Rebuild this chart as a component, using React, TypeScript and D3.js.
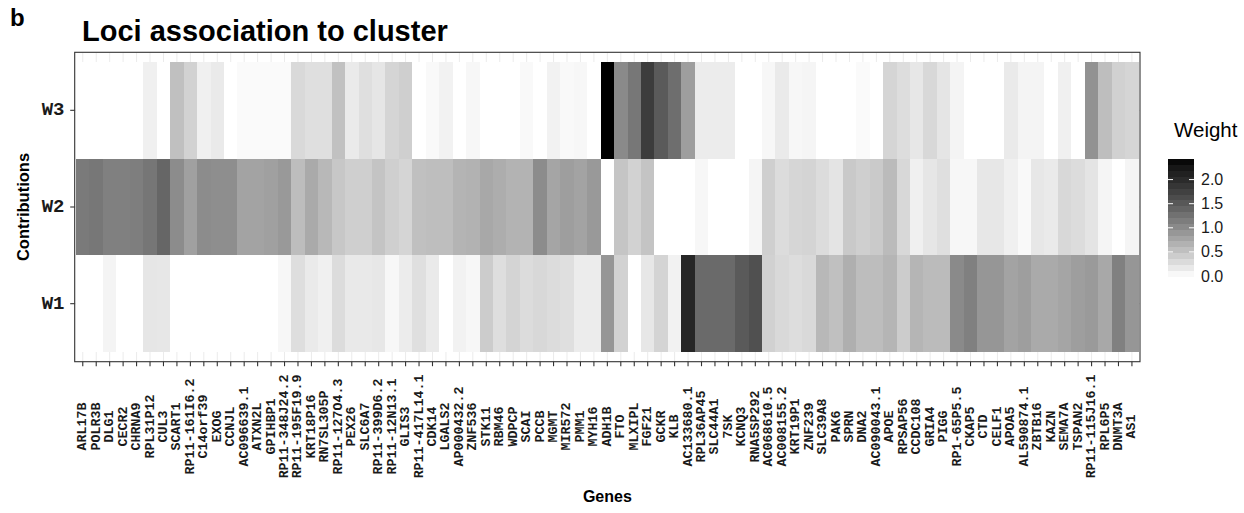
import React from "react";
import * as d3 from "d3";

const genes = [
  "ARL17B", "POLR3B", "DLG1", "CECR2", "CHRNA9", "RPL31P12", "CUL3", "SCART1",
  "RP11-161I6.2", "C14orf39", "EXOG", "CCNJL", "AC096639.1", "ATXN2L", "GPIHBP1",
  "RP11-348J24.2", "RP11-195F19.9", "KRT18P16", "RN7SL305P", "RP11-127O4.3", "PEX26",
  "SLC6A7", "RP11-399D6.2", "RP11-12N13.1", "GLIS3", "RP11-417L14.1", "CDK14", "LGALS2",
  "AP000432.2", "ZNF536", "STK11", "RBM46", "WDPCP", "SCAI", "PCCB", "MGMT", "MIR572",
  "PMM1", "MYH16", "ADH1B", "FTO", "MLXIPL", "FGF21", "GCKR", "KLB", "AC133680.1",
  "RPL36AP45", "SLC44A1", "7SK", "KCNQ3", "RNA5SP292", "AC068610.5", "AC008155.2",
  "KRT19P1", "ZNF239", "SLC39A8", "PAK6", "SPRN", "DNA2", "AC090043.1", "APOE",
  "RPSAP56", "CCDC108", "GRIA4", "PIGG", "RP1-65P5.5", "CKAP5", "CTD", "CELF1", "APOA5",
  "AL590874.1", "ZBTB16", "KAZN", "SEMA7A", "TSPAN2", "RP11-115J16.1", "RPL6P5",
  "DNMT3A", "AS1",
];

const contributions = ["W3", "W2", "W1"];

const weightW3 = [
  0, 0, 0, 0, 0, 0.13, 0, 0.54, 0.38, 0.13, 0.18, 0, 0.04, 0.04, 0.04, 0.04, 0.32, 0.27,
  0.27, 0.53, 0.18, 0.27, 0.21, 0.36, 0.41, 0, 0.05, 0.11, 0, 0.07, 0, 0, 0, 0.05, 0,
  0.11, 0.05, 0.07, 0, 2.43, 1.03, 1.21, 1.81, 1.5, 1.3, 0.85, 0.16, 0.16, 0.16, 0, 0,
  0.07, 0.18, 0.07, 0.08, 0, 0, 0, 0.04, 0, 0.36, 0.29, 0.2, 0.33, 0.22, 0.09, 0, 0, 0,
  0.18, 0.09, 0.09, 0, 0.13, 0, 0.96, 0.56, 0.39, 0.36,
];

const weightW2 = [
  1.19, 1.21, 1.13, 1.13, 1.15, 1.22, 1.38, 1.01, 0.83, 1.01, 1.0, 1.0, 0.8, 0.8, 0.83,
  0.89, 0.57, 0.74, 0.61, 0.48, 0.41, 0.41, 0.51, 0.41, 0.36, 0.54, 0.56, 0.56, 0.65,
  0.67, 0.76, 0.71, 0.66, 0.66, 1.01, 0.78, 0.85, 0.8, 0.89, 0, 0.5, 0.38, 0.51, 0, 0, 0,
  0.07, 0, 0, 0, 0.08, 0.41, 0.3, 0.35, 0.37, 0.3, 0.23, 0.46, 0.41, 0.45, 0.59, 0.33,
  0.13, 0.21, 0.27, 0.07, 0.07, 0.2, 0.2, 0.13, 0.05, 0.2, 0.18, 0.33, 0.3, 0.23, 0.08, 0,
  0.08,
];

const weightW1 = [
  0, 0, 0.09, 0, 0, 0.21, 0.2, 0, 0, 0, 0, 0, 0, 0, 0, 0.07, 0.28, 0.18, 0.13, 0.3, 0.19,
  0.19, 0.2, 0.07, 0.16, 0.27, 0.18, 0, 0.11, 0.07, 0.44, 0.28, 0.37, 0.3, 0.33, 0.3,
  0.27, 0.16, 0.16, 0.92, 0.38, 0, 0.2, 0.37, 0.11, 2.06, 1.34, 1.34, 1.34, 1.5, 1.6,
  0.39, 0.32, 0.29, 0.32, 0.61, 0.54, 0.69, 0.57, 0.57, 0.64, 0.44, 0.64, 0.59, 0.59,
  1.03, 1.13, 0.92, 0.92, 0.8, 0.85, 0.74, 0.74, 0.78, 0.85, 0.88, 0.76, 1.13, 0.92,
];

const legendTicks = [0, 0.5, 1.0, 1.5, 2.0];
const weightMax = 2.43;

export default function App() {
  const W = 1244;
  const H = 513;
  const px0 = 74.7, px1 = 1140, py0 = 52.3, py1 = 361.7;
  const tickLen = 4.5;
  const ux = (px1 - px0) / (genes.length + 0.2);
  const uy = (py1 - py0) / (contributions.length + 0.2);
  const x = d3.scaleBand<string>().domain(genes).range([px0 + 0.1 * ux, px1 - 0.1 * ux]);
  const y = d3.scaleBand<string>().domain(contributions).range([py0 + 0.1 * uy, py1 - 0.1 * uy]);
  const color = d3
    .scaleLinear<string>()
    .domain([0, weightMax])
    .range(["#ffffff", "#000000"])
    .interpolate(d3.interpolateLab);

  const series: Record<string, number[]> = { W3: weightW3, W2: weightW2, W1: weightW1 };
  const cells: { g: string; r: string; v: number }[] = [];
  contributions.forEach((r) => genes.forEach((g, i) => cells.push({ g, r, v: series[r][i] })));

  // legend
  const lx = 1168, lw = 26;
  const ly = d3.scaleLinear().domain([0, weightMax]).range([276, 276 - weightMax * 48.2]);
  const nbin = 20;
  const bins = d3.range(nbin).map((i) => ({
    a: (i / nbin) * weightMax,
    b: ((i + 1) / nbin) * weightMax,
    c: ((i + 0.5) / nbin) * weightMax,
  }));

  const mono = "'Liberation Mono', 'DejaVu Sans Mono', monospace";
  const sans = "'Liberation Sans', Arial, Helvetica, sans-serif";

  return (
    <svg width={W} height={H} style={{ position: "absolute", left: 0, top: 0, display: "block", background: "#fff" }}>
      <rect x={0} y={0} width={W} height={H} fill="#ffffff" />
      <text x={10} y={26} fontFamily={sans} fontWeight="bold" fontSize={24} fill="#000">b</text>
      <text x={82} y={41} fontFamily={sans} fontWeight="bold" fontSize={29} fill="#000">
        Loci association to cluster
      </text>

      {/* grid */}
      <g stroke="#ebebeb" strokeWidth={1}>
        {genes.map((g) => (
          <line key={"gx" + g} x1={x(g)! + x.bandwidth() / 2} x2={x(g)! + x.bandwidth() / 2} y1={py0} y2={py1} />
        ))}
        {contributions.map((r) => (
          <line key={"gy" + r} x1={px0} x2={px1} y1={y(r)! + y.bandwidth() / 2} y2={y(r)! + y.bandwidth() / 2} />
        ))}
      </g>

      {/* tiles */}
      <g shapeRendering="crispEdges">
        {cells.map((c) => (
          <rect
            key={c.r + c.g}
            x={x(c.g)!}
            y={y(c.r)!}
            width={x.bandwidth() + 0.4}
            height={y.bandwidth()}
            fill={color(c.v)}
          />
        ))}
      </g>

      <rect x={px0} y={py0} width={px1 - px0} height={py1 - py0} fill="none" stroke="#333333" strokeWidth={1.1} />

      {/* y axis */}
      {contributions.map((r) => {
        const cy = y(r)! + y.bandwidth() / 2;
        return (
          <g key={"ya" + r}>
            <line x1={px0 - tickLen} x2={px0} y1={cy} y2={cy} stroke="#333333" strokeWidth={1.1} />
            <text x={64.5} y={cy} textAnchor="end" dominantBaseline="central" fontFamily={mono} fontWeight="bold" fontSize={19} fill="#1a1a1a">
              {r}
            </text>
          </g>
        );
      })}

      {/* x axis */}
      {genes.map((g) => {
        const cx = x(g)! + x.bandwidth() / 2;
        return (
          <g key={"xa" + g}>
            <line x1={cx} x2={cx} y1={py1} y2={py1 + tickLen} stroke="#333333" strokeWidth={1.1} />
            <text
              transform={`translate(${cx},426.5) rotate(-90)`}
              textAnchor="middle"
              dominantBaseline="central"
              fontFamily={mono}
              fontWeight="bold"
              fontSize={13.3}
              fill="#1a1a1a"
            >
              {g}
            </text>
          </g>
        );
      })}

      <text x={(px0 + px1) / 2} y={502} textAnchor="middle" fontFamily={sans} fontWeight="bold" fontSize={16} fill="#000">
        Genes
      </text>
      <text transform={`translate(29,${(py0 + py1) / 2}) rotate(-90)`} textAnchor="middle" fontFamily={sans} fontWeight="bold" fontSize={16.5} fill="#000">
        Contributions
      </text>

      {/* legend */}
      <text x={1174} y={137} fontFamily={sans} fontSize={20.5} fill="#000">Weight</text>
      <g shapeRendering="crispEdges">
        {bins.map((b, i) => (
          <rect key={"lb" + i} x={lx} y={ly(b.b)} width={lw} height={ly(b.a) - ly(b.b) + 0.5} fill={color(b.c)} />
        ))}
      </g>
      {legendTicks.map((t) => (
        <g key={"lt" + t}>
          {t > 0 && (
            <>
              <line x1={lx} x2={lx + 5} y1={ly(t)} y2={ly(t)} stroke="#ffffff" strokeWidth={1} />
              <line x1={lx + lw - 5} x2={lx + lw} y1={ly(t)} y2={ly(t)} stroke="#ffffff" strokeWidth={1} />
            </>
          )}
          <text x={lx + lw + 7} y={ly(t)} dominantBaseline="central" fontFamily={sans} fontSize={16} fill="#1a1a1a">
            {t.toFixed(1)}
          </text>
        </g>
      ))}
    </svg>
  );
}
